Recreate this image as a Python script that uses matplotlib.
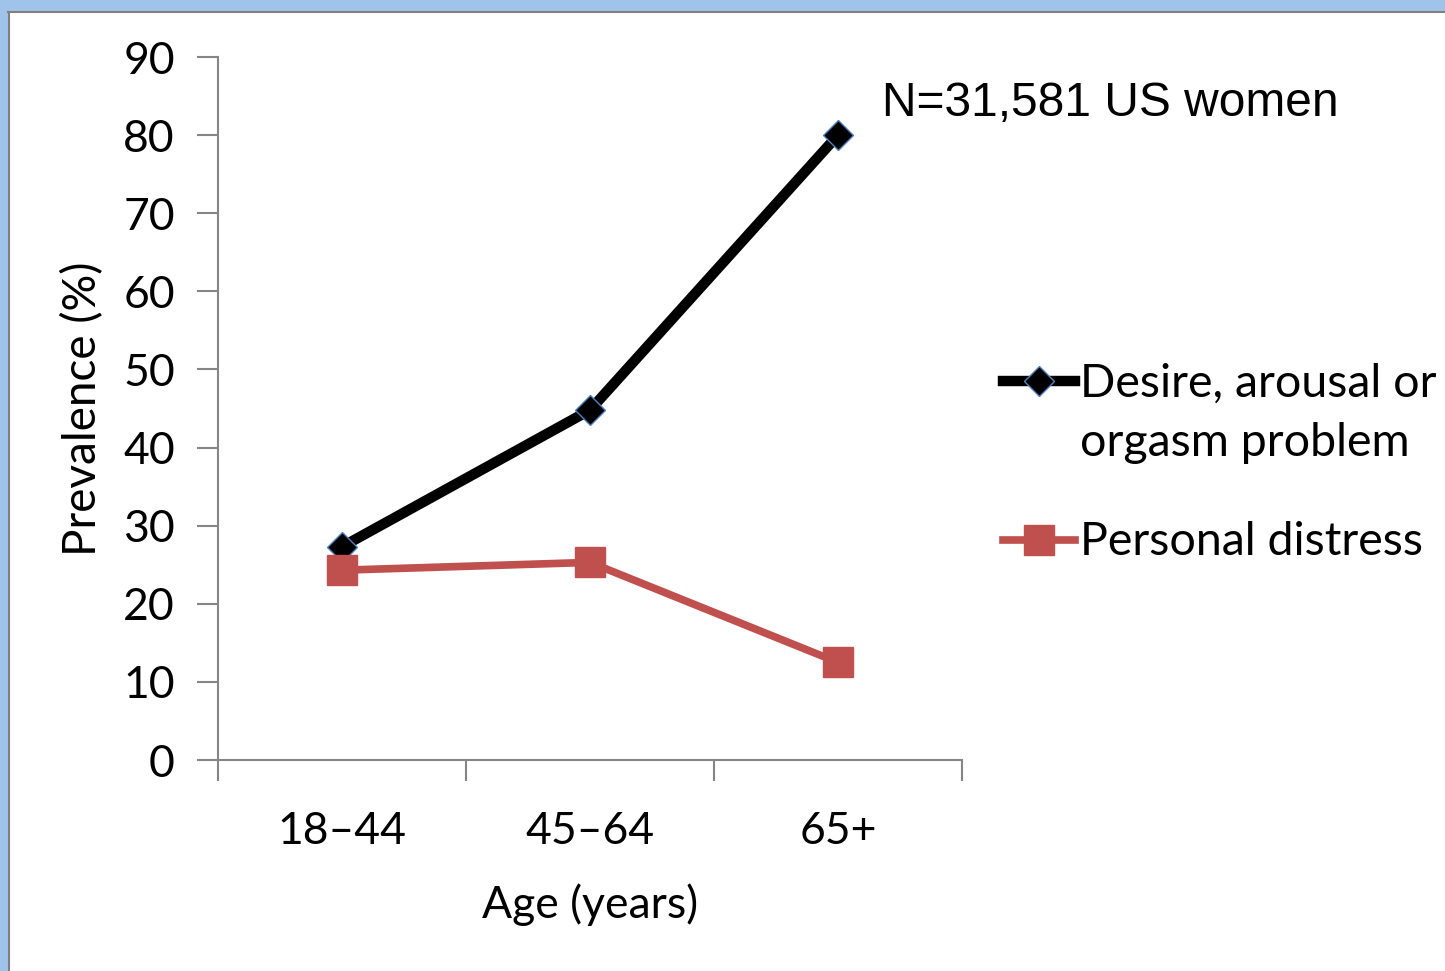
import matplotlib
matplotlib.use("Agg")
import matplotlib.pyplot as plt
from matplotlib.patches import Rectangle
from matplotlib.lines import Line2D

ages = ["18–44", "45–64", "65+"]
desire = [27.3, 44.8, 80.0]
distress = [24.3, 25.3, 12.5]
yticks = [0, 10, 20, 30, 40, 50, 60, 70, 80, 90]
labels = ["Desire, arousal or\norgasm problem", "Personal distress"]

plt.rcParams['font.family'] = ['Lato', 'DejaVu Sans']

fig = plt.figure(figsize=(14.45, 9.71), dpi=100)
W, H = 1445, 971

# blue frame at top and left
fig.patches.append(Rectangle((0, 1 - 11 / H), 1, 11 / H, transform=fig.transFigure,
                             facecolor="#9fc3e9", edgecolor="none"))
fig.patches.append(Rectangle((0, 0), 8 / W, 1, transform=fig.transFigure,
                             facecolor="#9fc3e9", edgecolor="none"))
fig.lines.append(Line2D([8 / W, 1], [1 - 12 / H, 1 - 12 / H], transform=fig.transFigure,
                        color="#808080", lw=1.5))
fig.lines.append(Line2D([9 / W, 9 / W], [0, 1 - 12 / H], transform=fig.transFigure,
                        color="#808080", lw=1.5))

ax = fig.add_axes([218 / W, 1 - 760 / H, (962 - 218) / W, (760 - 57) / H])
x = [0.5, 1.5, 2.5]
desire_style = dict(color="black", lw=7.5, marker="D", markersize=15,
                    markerfacecolor="black", markeredgecolor="#4f81bd", markeredgewidth=1)
distress_style = dict(color="#c0504d", lw=5.5, marker="s", markersize=21,
                      markerfacecolor="#c0504d", markeredgecolor="#c0504d")
ax.plot(x, desire, **desire_style)
ax.plot(x, distress, **distress_style)

ax.set_xlim(0, 3)
ax.set_ylim(0, 90)
ax.set_yticks(yticks)
ax.set_xticks([0, 1, 2, 3])
ax.set_xticklabels([])
ax.set_xticks(x, minor=True)
ax.set_xticklabels(ages, minor=True)
ax.tick_params(axis="x", which="minor", length=0, pad=37, labelsize=32)
ax.tick_params(axis="x", which="major", length=15, width=1.5, color="#868686", direction="out")
ax.tick_params(axis="y", length=15, width=1.5, color="#868686", labelsize=32, pad=16)
for s in ["top", "right"]:
    ax.spines[s].set_visible(False)
for s in ["left", "bottom"]:
    ax.spines[s].set_color("#868686")
    ax.spines[s].set_linewidth(1.5)

ax.set_xlabel("Age (years)", fontsize=32, labelpad=22)
ax.set_ylabel("Prevalence (%)", fontsize=33, labelpad=14)

fig.text(882 / W, 1 - 103 / H, "N=31,581 US women", fontsize=34.5,
         family="Liberation Sans", va="center", ha="left")

# legend drawn by hand so the handle sits on the first text line
for lab, style, yp, dy in [(labels[0], desire_style, 381, 18), (labels[1], distress_style, 540, 19)]:
    fig.lines.append(Line2D([1003 / W, 1039 / W, 1075 / W], [1 - yp / H] * 3,
                            transform=fig.transFigure, markevery=[1], **style))
    fig.text(1080 / W, 1 - (yp - dy) / H, lab, fontsize=33.5, va="top", ha="left",
             linespacing=1.5)

fig.savefig("out.png", dpi=100, facecolor="white")
